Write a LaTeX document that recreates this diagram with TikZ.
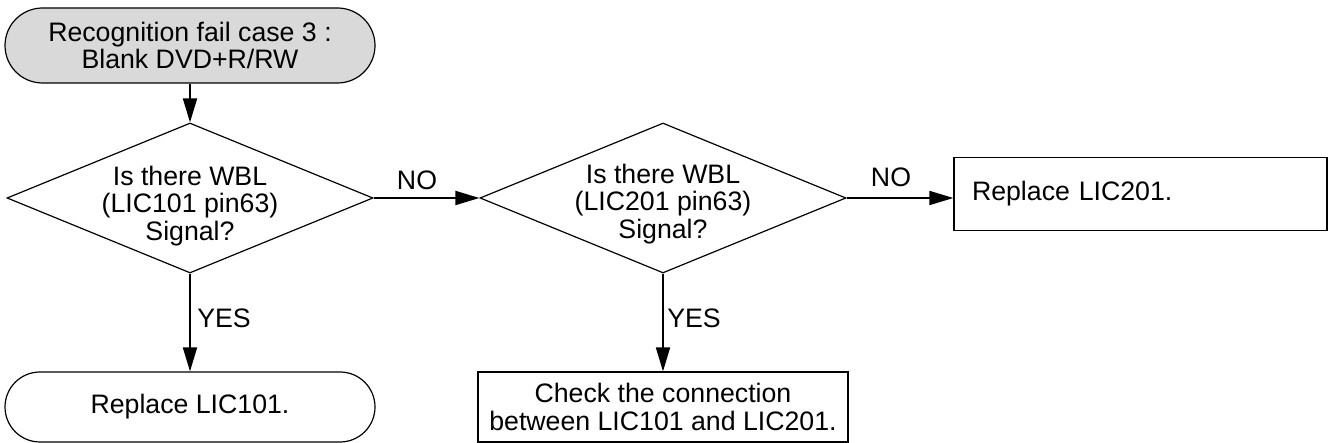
\documentclass[tikz,border=0pt]{standalone}
\usepackage{fontspec}
\setmainfont{Liberation Sans}
\usetikzlibrary{shapes.geometric,shapes.misc,arrows.meta}
\begin{document}
\begin{tikzpicture}[x=1pt,y=-1pt,
  every node/.style={font=\fontsize{26.7}{27.5}\selectfont},
  term/.style={draw, rounded rectangle, minimum width=370pt, minimum height=75pt, inner sep=0pt, line width=1.2pt, align=center},
  dia/.style={draw, diamond, minimum width=366pt, minimum height=150pt, inner sep=0pt, line width=1.2pt},
  procbox/.style={draw, rectangle, line width=1.2pt, inner sep=0pt, align=center},
  arr/.style={-{Triangle[length=24pt,width=14pt]}, line width=1.8pt},
  lbl/.style={inner sep=0pt}]
\useasboundingbox (0,0) rectangle (1328,443);
\node[term, fill=gray!30] (s) at (190,45.5) {Recognition fail case 3 :\\Blank DVD+R/RW};
\node[dia] (d1) at (190,198) {};
\node[align=center, inner sep=0pt] (t1) at (190,206) {Is there WBL\\(LIC101 pin63)\\Signal?};
\node[dia] (d2) at (663,198) {};
\node[align=center, inner sep=0pt] (t2) at (663,204) {Is there WBL\\(LIC201 pin63)\\Signal?};
\node[procbox, minimum width=373pt, minimum height=73pt, text width=337pt, inner xsep=18pt, align=left] (b3) at (1140.5,194) {Replace LIC201.};
\node[term, minimum height=70pt] (e1) at (190,407) {Replace LIC101.};
\node[procbox, minimum width=370pt, minimum height=70pt] (b2) at (663,407) {Check the connection\\between LIC101 and LIC201.};
\draw[arr] (s.south) -- (d1.north);
\draw[arr] (d1.east) -- (d2.west);
\draw[arr] (d2.east) -- (d2.east -| b3.west);
\draw[arr] (d1.south) -- (e1.north);
\draw[arr] (d2.south) -- (b2.north);
\node[lbl] (no1) at (417,180) {NO};
\node[lbl] (no2) at (891,177) {NO};
\node[lbl] (yes1) at (224,318) {YES};
\node[lbl] (yes2) at (694,318) {YES};
\end{tikzpicture}
\end{document}
